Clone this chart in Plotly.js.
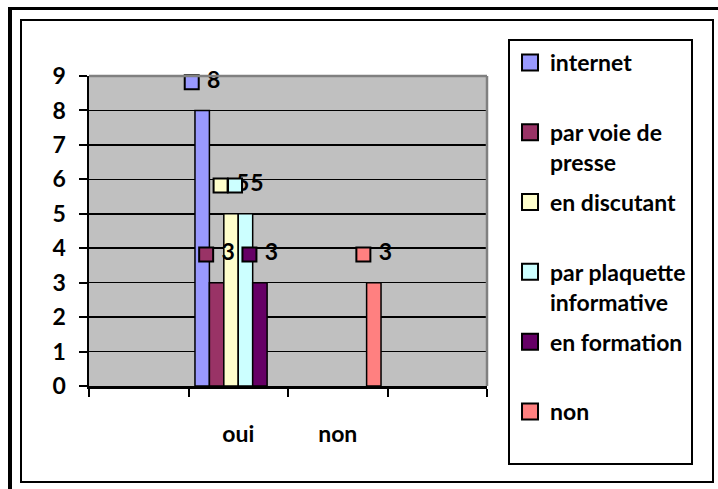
<!DOCTYPE html>
<html>
<head>
<meta charset="utf-8">
<script src="https://cdn.plot.ly/plotly-3.0.1.min.js"></script>
<style>
  html, body { margin: 0; padding: 0; background: #fff; }
  #chart { position: absolute; left: 0; top: 0; width: 718px; height: 489px; }
  .outer { position: absolute; left: 8px; top: 7px; width: 800px; height: 600px;
           border-top: 3px solid #000; border-left: 4px solid #000; pointer-events: none; }
  .inner { position: absolute; left: 20px; top: 19px; width: 690px; height: 460px;
           border: 2px solid #000; pointer-events: none; }
</style>
</head>
<body>
<div id="chart"></div>
<div class="outer"></div>
<div class="inner"></div>
<script>
// ---- data ----
const categories = ["", "oui", "non", ""];
const seriesNames = ["internet", "par voie de presse", "en discutant", "par plaquette informative", "en formation", "non"];
const legendLabels = ["internet<br> ", "par voie de<br>presse", "en discutant<br> ", "par plaquette<br>informative", "en formation<br> ", "non<br> "];
const internet = [null, 8, null, null];
const parVoieDePresse = [null, 3, null, null];
const enDiscutant = [null, 5, null, null];
const parPlaquetteInformative = [null, 5, null, null];
const enFormation = [null, 3, null, null];
const non = [null, null, 3, null];
const yTickValues = [0, 1, 2, 3, 4, 5, 6, 7, 8, 9];

// ---- styles ----
const seriesColors = ["#9999FF", "#993366", "#FFFFCC", "#CCFFFF", "#660066", "#FF8080"];
const seriesValues = [internet, parVoieDePresse, enDiscutant, parPlaquetteInformative, enFormation, non];
const barGap = 0.13;
const labelLift = 0.82;     // label sits above the bar end (data units)
const labelShift = 0.105;   // key square left of bar centre (category units)
const keyMarker = (j, s) => ({ symbol: "square", size: s, color: seriesColors[j], line: { color: "#000", width: 2 } });

const catPos = categories.map((c, i) => i);
const boundaries = categories.map((c, i) => i - 0.5).concat([categories.length - 0.5]);
const xRange = [-0.5, categories.length - 0.5];
const nSeries = seriesValues.length;
const slotW = (1 - barGap) / nSeries;

const traces = [];
// bars
seriesValues.forEach((vals, j) => {
  traces.push({
    type: "bar",
    x: catPos,
    y: vals,
    name: seriesNames[j],
    width: slotW,
    offset: -(1 - barGap) / 2 + j * slotW,
    showlegend: false,
    marker: { color: seriesColors[j], line: { color: "#000", width: 1.5 } },
    hoverinfo: "skip"
  });
});
// data labels (legend key + value), drawn above all bars
seriesValues.forEach((vals, j) => {
  const xs = [], ys = [], ts = [];
  vals.forEach((v, i) => {
    if (v === null) return;
    xs.push(catPos[i] + (j - (nSeries - 1) / 2) * slotW - labelShift);
    ys.push(v + labelLift);
    ts.push("\u00a0" + v);
  });
  traces.push({
    type: "scatter",
    mode: "markers+text",
    xaxis: "x2",
    x: xs, y: ys, text: ts,
    textposition: "middle right",
    textfont: { family: "Lato", size: 23, color: "#000", weight: "bold" },
    marker: keyMarker(j, 14),
    showlegend: false,
    cliponaxis: false,
    hoverinfo: "skip"
  });
});
// legend keys
seriesValues.forEach((vals, j) => {
  traces.push({
    type: "scatter", mode: "markers",
    x: [null], y: [null],
    name: legendLabels[j],
    legendgroup: "g" + j,
    marker: keyMarker(j, 16),
    showlegend: true,
    hoverinfo: "skip"
  });
});

const layout = {
  width: 718, height: 489,
  margin: { l: 89, r: 231, t: 76, b: 103, pad: 0 },
  paper_bgcolor: "#fff",
  plot_bgcolor: "#C0C0C0",
  font: { family: "Lato", size: 23, color: "#000", weight: "bold" },
  barmode: "overlay",
  showlegend: true,
  legend: {
    x: 1.0528, y: 1.1194, xanchor: "left", yanchor: "top",
    bgcolor: "#fff", bordercolor: "#000", borderwidth: 2,
    valign: "top", tracegroupgap: 7, maxheight: 440, itemsizing: "trace",
    font: { family: "Lato", size: 23, color: "#000", weight: "bold" }
  },
  xaxis: {
    type: "linear", range: xRange,
    tickmode: "array", tickvals: catPos, ticktext: categories,
    ticks: "outside", ticklen: 8, tickwidth: 2, tickcolor: "rgba(0,0,0,0)",
    minor: { tickmode: "array", tickvals: boundaries, ticks: "outside", ticklen: 8,
             tickwidth: 2, tickcolor: "#000", showgrid: false },
    showline: true, linecolor: "#000", linewidth: 2.5,
    showgrid: false, zeroline: false, ticklabelstandoff: 18, fixedrange: true
  },
  xaxis2: { overlaying: "x", anchor: "y", range: xRange, visible: false, fixedrange: true },
  yaxis: {
    range: [0, 9], tickmode: "array", tickvals: yTickValues, ticktext: yTickValues.map(String),
    ticks: "outside", ticklen: 8, tickwidth: 2, tickcolor: "#000",
    showline: true, linecolor: "#000", linewidth: 2.5,
    showgrid: true, gridcolor: "#000", gridwidth: 1.5, zeroline: false,
    ticklabelstandoff: 8, fixedrange: true
  },
  shapes: [
    { type: "line", xref: "paper", yref: "paper", x0: 0, x1: 1, y0: 1, y1: 1, layer: "above",
      line: { color: "#808080", width: 2.5 } },
    { type: "line", xref: "paper", yref: "paper", x0: 1, x1: 1, y0: 0, y1: 1, layer: "above",
      line: { color: "#808080", width: 2.5 } }
  ]
};

Plotly.newPlot("chart", traces, layout, { displayModeBar: false, staticPlot: true });
</script>
</body>
</html>
